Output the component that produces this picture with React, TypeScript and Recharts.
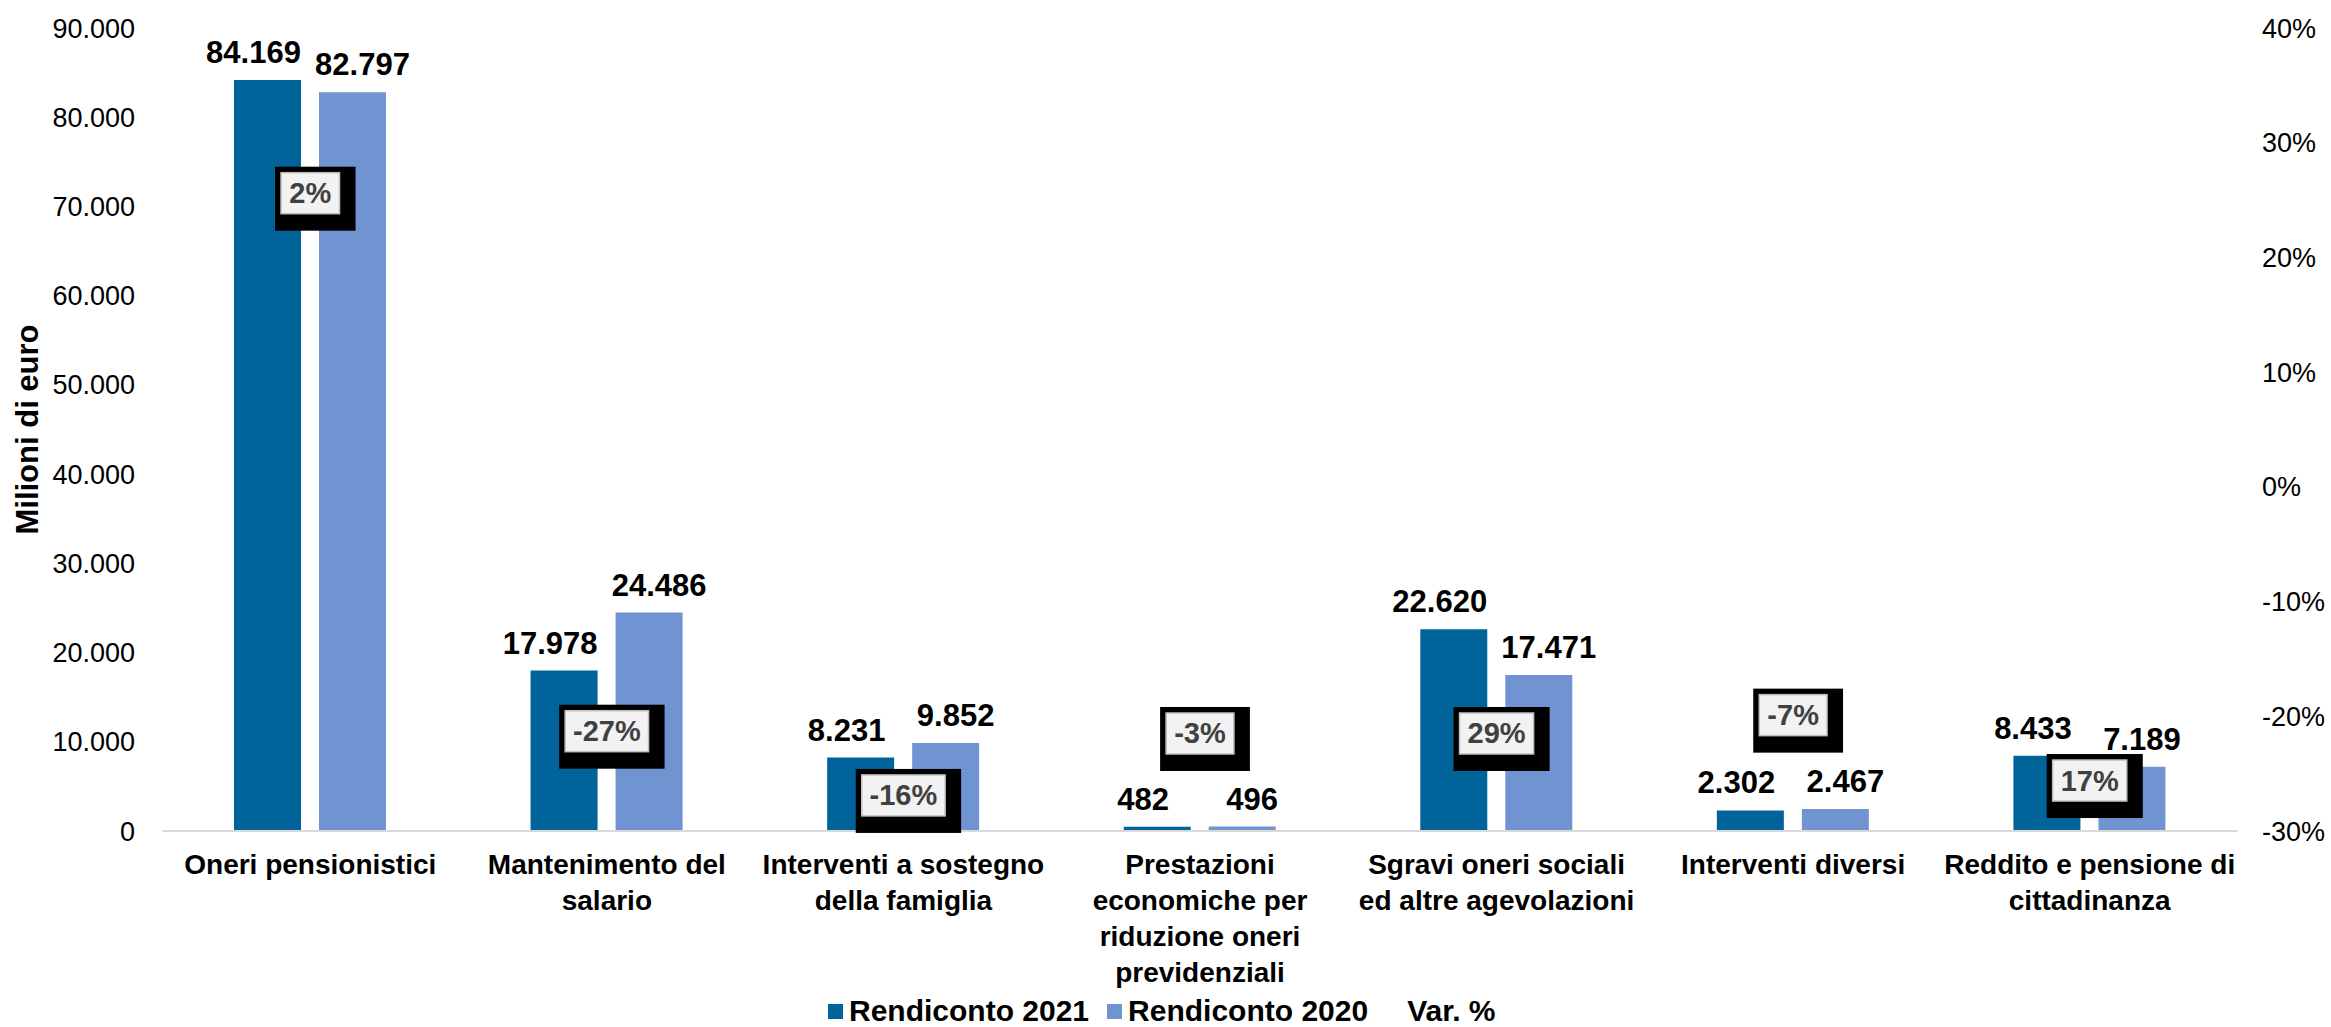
import {
  ComposedChart,
  Bar,
  Line,
  XAxis,
  YAxis,
  Legend,
  LabelList,
  Label
} from 'recharts';

const categories = [
  'Oneri pensionistici',
  'Mantenimento del salario',
  'Interventi a sostegno della famiglia',
  'Prestazioni economiche per riduzione oneri previdenziali',
  'Sgravi oneri sociali ed altre agevolazioni',
  'Interventi diversi',
  'Reddito e pensione di cittadinanza'
];

// how the category names wrap under the axis
const categoryLines = [
  ['Oneri pensionistici'],
  ['Mantenimento del', 'salario'],
  ['Interventi a sostegno', 'della famiglia'],
  ['Prestazioni', 'economiche per', 'riduzione oneri', 'previdenziali'],
  ['Sgravi oneri sociali', 'ed altre agevolazioni'],
  ['Interventi diversi'],
  ['Reddito e pensione di', 'cittadinanza']
];

const rendiconto2021 = [84169, 17978, 8231, 482, 22620, 2302, 8433];
const rendiconto2020 = [82797, 24486, 9852, 496, 17471, 2467, 7189];
const varPct = [2, -27, -16, -3, 29, -7, 17];
// where the Var. % labels sit, read on the right axis (labels were placed by hand)
const varLabelAnchor = [25.6, -21.3, -26.9, -21.5, -21.5, -19.9, -25.6];

const leftTicks = [0, 10000, 20000, 30000, 40000, 50000, 60000, 70000, 80000, 90000];
const rightTicks = [-30, -20, -10, 0, 10, 20, 30, 40];

const DARK = '#00639a';
const LIGHT = '#7093d1';
const FONT = "'Liberation Sans', Arial, sans-serif";
const NARROW = "'Liberation Sans Narrow', 'Arial Narrow', 'Liberation Sans', Arial, sans-serif";

const data = categories.map((name, i) => ({
  name,
  r2021: rendiconto2021[i],
  r2020: rendiconto2020[i],
  varPct: varPct[i],
  varAnchor: varLabelAnchor[i]
}));

const fmt = (n: number) => String(n).replace(/\B(?=(\d{3})+(?!\d))/g, '.');

function CategoryTick(props: any) {
  const { x, y, payload } = props;
  const idx = categories.indexOf(payload.value);
  const lines = categoryLines[idx] || [payload.value];
  return (
    <g>
      {lines.map((l, i) => (
        <text
          key={i}
          x={x}
          y={y + 43 + i * 36}
          textAnchor="middle"
          fontFamily={FONT}
          fontWeight="bold"
          fontSize={28}
          fill="#000"
        >
          {l}
        </text>
      ))}
    </g>
  );
}

const barLabel = (dx: number) => (props: any) => {
  const { x, y, width, value } = props;
  return (
    <text
      x={x + width / 2 + dx}
      y={y - 17}
      textAnchor="middle"
      fontFamily={FONT}
      fontWeight="bold"
      fontSize={31}
      fill="#000"
    >
      {fmt(value)}
    </text>
  );
};

const charW: Record<string, number> = { '-': 9.3, '%': 24.9 };

function VarLabel(props: any) {
  const { x, y, value } = props;
  const txt = `${value}%`;
  let w = 0;
  for (const c of txt) w += charW[c] ?? 15.6;
  const bw = w + 18;
  const bh = 41;
  const lx = x - bw / 2;
  const ly = y - bh / 2;
  return (
    <g>
      <rect x={lx - 6} y={ly - 6} width={bw + 22} height={bh + 23} fill="#000" />
      <rect x={lx} y={ly} width={bw} height={bh} fill="#f2f2f2" stroke="#bfbfbf" strokeWidth={1.5} />
      <text
        x={x}
        y={y + 10}
        textAnchor="middle"
        fontFamily={FONT}
        fontWeight="bold"
        fontSize={29}
        fill="#404040"
      >
        {txt}
      </text>
    </g>
  );
}

function LegendContent() {
  const items = [
    { label: 'Rendiconto 2021', color: DARK, mark: 15 },
    { label: 'Rendiconto 2020', color: LIGHT, mark: 15 },
    { label: 'Var. %', color: 'transparent', mark: 15 }
  ];
  return (
    <div style={{ display: 'flex', alignItems: 'center' }}>
      {items.map((it) => (
        <div key={it.label} style={{ display: 'flex', alignItems: 'center', marginRight: 18 }}>
          <span style={{ width: it.mark, height: 15, background: it.color, marginRight: 6, display: 'inline-block' }} />
          <span style={{ fontFamily: NARROW, fontWeight: 'bold', fontSize: 30, color: '#000', lineHeight: '28px' }}>
            {it.label}
          </span>
        </div>
      ))}
    </div>
  );
}

function AxisTitle(props: any) {
  const vb = props.viewBox || { x: 0, y: 28, width: 162, height: 803 };
  const cx = 27;
  const cy = vb.y + vb.height / 2;
  return (
    <text
      x={cx}
      y={cy}
      transform={`rotate(-90, ${cx}, ${cy})`}
      textAnchor="middle"
      dominantBaseline="central"
      fontFamily={NARROW}
      fontWeight="bold"
      fontSize={31}
      fill="#000"
    >
      Milioni di euro
    </text>
  );
}

export default function App() {
  return (
    <div style={{ position: 'absolute', left: 0, top: 0, width: 2331, height: 1027, background: '#fff' }}>
      <ComposedChart
        width={2331}
        height={1027}
        data={data}
        margin={{ top: 28, right: 0, bottom: 0, left: 0 }}
        barGap={18}
      >
        <XAxis
          dataKey="name"
          height={196}
          interval={0}
          tickLine={false}
          tickSize={0}
          tickMargin={0}
          axisLine={{ stroke: '#d9d9d9', strokeWidth: 2 }}
          tick={<CategoryTick />}
        />
        <YAxis
          yAxisId="left"
          width={162}
          domain={[0, 90000]}
          ticks={leftTicks}
          tickFormatter={fmt}
          axisLine={false}
          tickLine={false}
          tickSize={0}
          tickMargin={27}
          tick={{ fontFamily: FONT, fontSize: 27, fill: '#000' }}
        >
          <Label content={<AxisTitle />} />
        </YAxis>
        <YAxis
          yAxisId="right"
          orientation="right"
          width={93}
          domain={[-30, 40]}
          ticks={rightTicks}
          tickFormatter={(v: number) => `${v}%`}
          axisLine={false}
          tickLine={false}
          tickSize={0}
          tickMargin={24}
          tick={{ fontFamily: FONT, fontSize: 27, fill: '#000', textAnchor: 'start' }}
        />
        <Bar yAxisId="left" dataKey="r2021" name="Rendiconto 2021" fill={DARK} barSize={67} isAnimationActive={false}>
          <LabelList dataKey="r2021" content={barLabel(-14)} />
        </Bar>
        <Bar yAxisId="left" dataKey="r2020" name="Rendiconto 2020" fill={LIGHT} barSize={67} isAnimationActive={false}>
          <LabelList dataKey="r2020" content={barLabel(10)} />
        </Bar>
        <Line
          yAxisId="right"
          dataKey="varAnchor"
          name="Var. %"
          stroke="none"
          dot={false}
          activeDot={false}
          isAnimationActive={false}
        >
          <LabelList dataKey="varPct" content={<VarLabel />} />
        </Line>
        <Legend
          verticalAlign="middle"
          content={<LegendContent />}
          wrapperStyle={{ top: 997, left: 828, width: 'auto' }}
        />
      </ComposedChart>
    </div>
  );
}
